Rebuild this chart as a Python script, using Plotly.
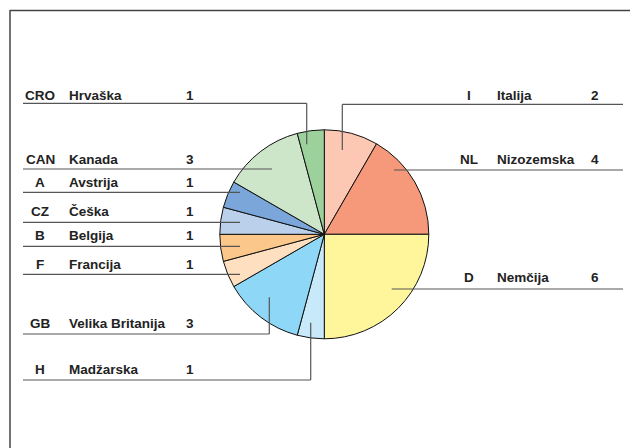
import plotly.graph_objects as go

# Data (clockwise from 12 o'clock)
codes = ["I", "NL", "D", "H", "GB", "F", "B", "CZ", "A", "CAN", "CRO"]
names = ["Italija", "Nizozemska", "Nemčija", "Madžarska", "Velika Britanija",
         "Francija", "Belgija", "Češka", "Avstrija", "Kanada", "Hrvaška"]
values = [2, 4, 6, 1, 3, 1, 1, 1, 1, 3, 1]
colors = ["#fcc8b3", "#f6987a", "#fff69b", "#c8e9f9", "#8fd7f6", "#fedfbf",
          "#fcc78a", "#bbd0eb", "#7ba6da", "#cde6ca", "#9dd19b"]

W, H = 630, 448
cx, cy, R = 324.3, 234.3, 104.5

# Label layout: side, text centre y, leader line y, line inner x end, vertical end y (or None)
label_layout = {
    "I":   ("R", 95, 104.3, 342.3, 150),
    "NL":  ("R", 159.5, 170, 394, None),
    "D":   ("R", 277.5, 289, 391.7, None),
    "H":   ("L", 369.5, 380, 310.7, 322.7),
    "GB":  ("L", 323.5, 334, 269.3, 297.3),
    "F":   ("L", 264, 274.3, 240, None),
    "B":   ("L", 235, 246.3, 240, None),
    "CZ":  ("L", 211, 222.3, 240, None),
    "A":   ("L", 182.5, 192.3, 240, None),
    "CAN": ("L", 159, 169, 272, None),
    "CRO": ("L", 95, 103.3, 306.7, 144.3),
}

fig = go.Figure()
fig.add_trace(go.Pie(
    labels=names, values=values, sort=False, direction="clockwise", rotation=0,
    marker=dict(colors=colors, line=dict(color="#111111", width=1)),
    textinfo="none", hoverinfo="label+value", showlegend=False,
    domain=dict(x=[(cx - R) / W, (cx + R) / W], y=[1 - (cy + R) / H, 1 - (cy - R) / H]),
))

shapes = []
annotations = []
line_col = "#555555"
font = dict(family="Liberation Sans, Arial, sans-serif", size=13.5, color="#222222")

for code, name, val in zip(codes, names, values):
    side, ty, ly, lx, vy = label_layout[code]
    if side == "L":
        x0, x1 = 23, lx
        code_x, name_x, val_x = 40, 66.5, 190
    else:
        x0, x1 = lx, 623
        code_x, name_x, val_x = 469, 494.5, 595
    shapes.append(dict(type="line", xref="x", yref="y", x0=x0, x1=x1, y0=ly, y1=ly,
                       line=dict(color=line_col, width=1.2)))
    if vy is not None:
        shapes.append(dict(type="line", xref="x", yref="y", x0=lx, x1=lx, y0=ly, y1=vy,
                           line=dict(color=line_col, width=1.2)))
    annotations.append(dict(x=code_x, y=ty, xref="x", yref="y", text="<b>%s</b>" % code,
                            showarrow=False, xanchor="center", yanchor="middle", font=font))
    annotations.append(dict(x=name_x, y=ty, xref="x", yref="y", text="<b>%s</b>" % name,
                            showarrow=False, xanchor="left", yanchor="middle", font=font))
    annotations.append(dict(x=val_x, y=ty, xref="x", yref="y", text="<b>%d</b>" % val,
                            showarrow=False, xanchor="center", yanchor="middle", font=font))

# Frame
shapes.append(dict(type="line", xref="x", yref="y", x0=10, x1=640, y0=10.5, y1=10.5,
                   line=dict(color="#444444", width=1.5)))
shapes.append(dict(type="line", xref="x", yref="y", x0=10, x1=10, y0=10, y1=460,
                   line=dict(color="#444444", width=1.5)))

fig.update_layout(
    width=W, height=H, margin=dict(l=0, r=0, t=0, b=0),
    paper_bgcolor="white", plot_bgcolor="white",
    xaxis=dict(range=[0, W], visible=False, fixedrange=True),
    yaxis=dict(range=[H, 0], visible=False, fixedrange=True),
    shapes=shapes, annotations=annotations,
)
fig.write_html("out.html")
